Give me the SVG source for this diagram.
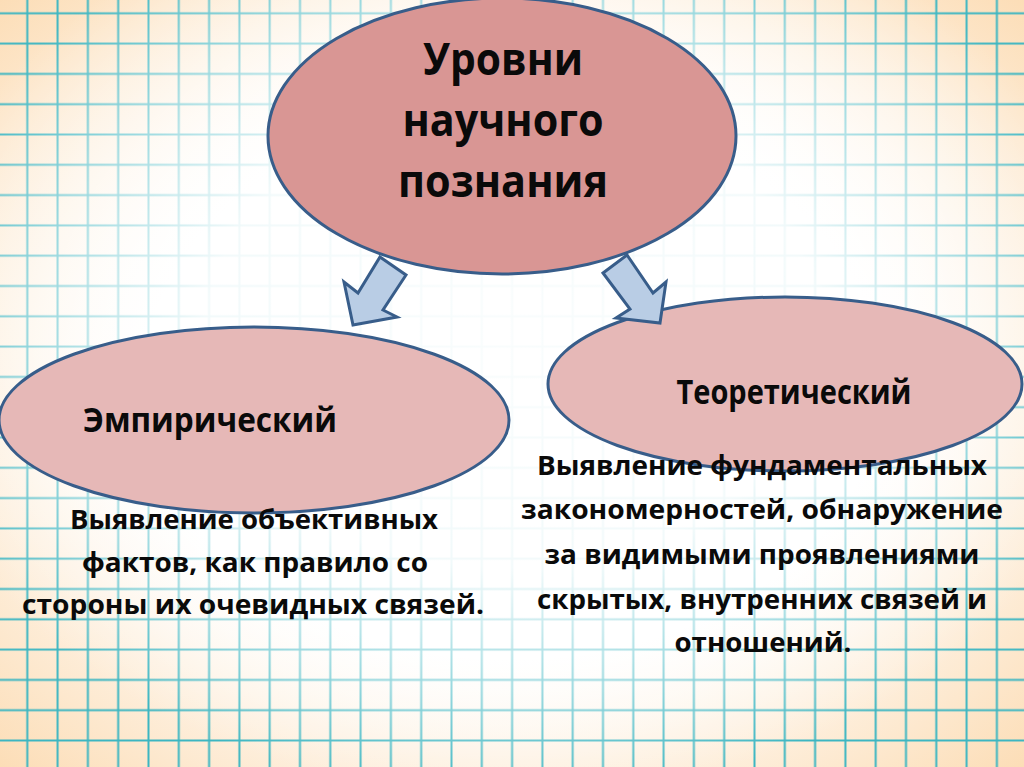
<svg xmlns="http://www.w3.org/2000/svg" width="1024" height="767" viewBox="0 0 1024 767">
  <defs>
    <radialGradient id="peach" cx="0.5" cy="0.5" r="0.72">
      <stop offset="0.5" stop-color="#ffffff"/>
      <stop offset="1" stop-color="#fcdcb4"/>
    </radialGradient>
    <radialGradient id="fade" cx="0.5" cy="0.44" r="0.6">
      <stop offset="0" stop-color="#ffffff" stop-opacity="0.97"/>
      <stop offset="0.5" stop-color="#ffffff" stop-opacity="0.93"/>
      <stop offset="0.78" stop-color="#ffffff" stop-opacity="0.45"/>
      <stop offset="1" stop-color="#ffffff" stop-opacity="0"/>
    </radialGradient>
    <pattern id="grid" patternUnits="userSpaceOnUse" x="12.15" y="-1.85" width="30.3" height="30.3">
      <path d="M15.15 0 V30.3 M0 15.15 H30.3" stroke="#3cb6c2" stroke-width="2" fill="none"/>
    </pattern>
    <style>
      .ell { stroke: #385d8a; stroke-width: 3; }
      .root { fill: #d99694; }
      .sub { fill: #e6b8b7; }
      .arrow { fill: #b9cde5; stroke: #385d8a; stroke-width: 3; stroke-linejoin: miter; }
      text { font-family: "Open Sans", "Liberation Sans", sans-serif; font-weight: bold; fill: #0a0a0a; text-anchor: middle; }
      .t1 { font-size: 44px; }
      .t2 { font-size: 34px; }
      .t3 { font-size: 27px; }
    </style>
  </defs>

  <g id="background">
    <rect x="0" y="0" width="1024" height="767" fill="url(#peach)"/>
    <rect x="0" y="0" width="1024" height="767" fill="url(#grid)"/>
    <rect x="0" y="0" width="1024" height="767" fill="url(#fade)"/>
  </g>

  <g id="node-root">
    <ellipse class="ell root" cx="502" cy="136" rx="234" ry="138"/>
    <text class="t1" x="503" y="75" textLength="160" lengthAdjust="spacingAndGlyphs">Уровни</text>
    <text class="t1" x="503" y="136" textLength="201" lengthAdjust="spacingAndGlyphs">научного</text>
    <text class="t1" x="503" y="197" textLength="210" lengthAdjust="spacingAndGlyphs">познания</text>
  </g>

  <g id="node-empirical">
    <ellipse class="ell sub" cx="254" cy="420" rx="255" ry="93"/>
    <text class="t2" x="210" y="432" textLength="254" lengthAdjust="spacingAndGlyphs">Эмпирический</text>
  </g>

  <g id="node-theoretical">
    <ellipse class="ell sub" cx="785" cy="384" rx="237" ry="87"/>
    <text class="t2" x="794" y="404" textLength="235" lengthAdjust="spacingAndGlyphs">Теоретический</text>
  </g>

  <g id="connectors">
    <polygon class="arrow" points="380,257 406,275 383,310 397,317 353,325 344,282 358,293"/>
    <polygon class="arrow" points="603,273 627,255 653,293 666,282 660,323 616,318 630,309"/>
  </g>

  <g id="desc-empirical">
    <text class="t3" x="254" y="529" textLength="368" lengthAdjust="spacingAndGlyphs">Выявление объективных</text>
    <text class="t3" x="255" y="572" textLength="346" lengthAdjust="spacingAndGlyphs">фактов, как правило со</text>
    <text class="t3" x="253" y="614" textLength="462" lengthAdjust="spacingAndGlyphs">стороны их очевидных связей.</text>
  </g>

  <g id="desc-theoretical">
    <text class="t3" x="762" y="475" textLength="450" lengthAdjust="spacingAndGlyphs">Выявление фундаментальных</text>
    <text class="t3" x="762" y="519" textLength="482" lengthAdjust="spacingAndGlyphs">закономерностей, обнаружение</text>
    <text class="t3" x="762" y="564" textLength="435" lengthAdjust="spacingAndGlyphs">за видимыми проявлениями</text>
    <text class="t3" x="762" y="609" textLength="450" lengthAdjust="spacingAndGlyphs">скрытых, внутренних связей и</text>
    <text class="t3" x="763" y="652" textLength="177" lengthAdjust="spacingAndGlyphs">отношений.</text>
  </g>
</svg>
